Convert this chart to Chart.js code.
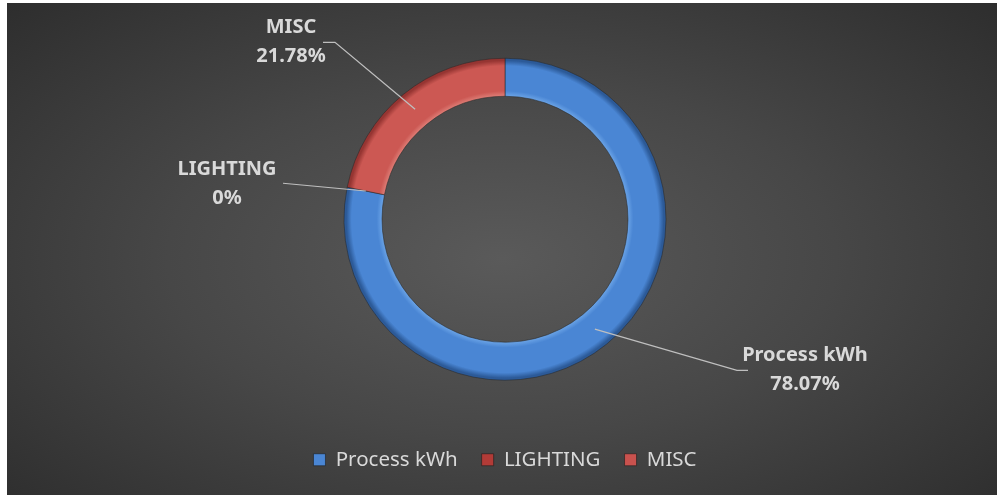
<!DOCTYPE html>
<html>
<head>
<meta charset="utf-8">
<script src="https://cdn.jsdelivr.net/npm/chart.js@4"></script>
<style>
  html, body { margin: 0; padding: 0; background: #ffffff; overflow: hidden; }
  #wrap {
    position: absolute; left: 7px; top: 3px; width: 990px; height: 492px;
    background: radial-gradient(ellipse 75% 80% at 50% 52%, #5a5a5a 0%, #474747 45%, #2a2a2a 100%);
  }
</style>
</head>
<body>
<div id="wrap"><canvas id="energyChart"></canvas></div>
<script>
// Energy split (values shown as percent labels)
const categories = ['Process kWh', 'LIGHTING', 'MISC'];
const shares = [78.07, 0, 21.78];

// colours for each slice: highlight, base, dark edge
const sliceColors = [
  ['#6aa3e6', '#4a86d4', '#2c5a98'],
  ['#d46a64', '#b83c38', '#7f2623'],
  ['#de7e77', '#cc5853', '#963532']
];
const legendColors = ['#4a86d4', '#b23b37', '#c9524e'];

// where the data labels sit, relative to the ring centre
const labelSpots = [
  { tx: 300, ty: 151, ex: 243, ey: 151, knee: -11 },
  { tx: -278, ty: -35, ex: -222, ey: -36, knee: 0 },
  { tx: -214, ty: -177, ex: -182, ey: -177, knee: 12 }
];

const OUTER_R = 161;
const INNER_R = 123;
const FONT = '"Noto Sans", "DejaVu Sans", sans-serif';

function sliceFill(ctx) {
  const chart = ctx.chart;
  const area = chart.chartArea;
  const cols = sliceColors[ctx.dataIndex];
  if (!area) return cols[1];
  const cx = (area.left + area.right) / 2;
  const cy = (area.top + area.bottom) / 2;
  const g = chart.ctx.createRadialGradient(cx, cy, INNER_R, cx, cy, OUTER_R);
  g.addColorStop(0, cols[0]);
  g.addColorStop(0.14, cols[1]);
  g.addColorStop(0.8, cols[1]);
  g.addColorStop(0.94, cols[2]);
  g.addColorStop(1, cols[2]);
  return g;
}

const leaderLabels = {
  id: 'leaderLabels',
  afterDatasetsDraw(chart) {
    const meta = chart.getDatasetMeta(0);
    const c = chart.ctx;
    c.save();
    meta.data.forEach((arc, i) => {
      const p = arc.getProps(['x', 'y', 'startAngle', 'endAngle', 'innerRadius', 'outerRadius'], true);
      const mid = (p.startAngle + p.endAngle) / 2;
      const r = (p.innerRadius + p.outerRadius) / 2;
      const ax = p.x + Math.cos(mid) * r;
      const ay = p.y + Math.sin(mid) * r;
      const s = labelSpots[i];
      const ex = p.x + s.ex, ey = p.y + s.ey;

      c.strokeStyle = '#bfbfbf';
      c.lineWidth = 1.25;
      c.beginPath();
      c.moveTo(ax, ay);
      c.lineTo(ex + s.knee, ey);
      c.lineTo(ex, ey);
      c.stroke();

      c.fillStyle = '#d9d9d9';
      c.font = 'bold 20px ' + FONT;
      c.textAlign = 'center';
      c.textBaseline = 'middle';
      c.fillText(categories[i], p.x + s.tx, p.y + s.ty - 14.5);
      c.fillText(shares[i] + '%', p.x + s.tx, p.y + s.ty + 14.5);
    });
    c.restore();
  }
};

new Chart(document.getElementById('energyChart'), {
  type: 'doughnut',
  data: {
    labels: categories,
    datasets: [{
      data: shares,
      backgroundColor: sliceFill,
      borderColor: 'rgba(40,40,40,0.55)',
      borderWidth: 1,
      radius: OUTER_R,
      cutout: (INNER_R / OUTER_R * 100) + '%'
    }]
  },
  options: {
    responsive: true,
    maintainAspectRatio: false,
    animation: false,
    layout: { padding: { left: 6, right: 0, top: 10, bottom: 15 } },
    plugins: {
      tooltip: { enabled: false },
      legend: {
        position: 'bottom',
        labels: {
          color: '#d9d9d9',
          font: { family: FONT, size: 20.5 },
          boxWidth: 12,
          boxHeight: 12,
          padding: 24,
          generateLabels(chart) {
            const items = Chart.overrides.doughnut.plugins.legend.labels.generateLabels(chart);
            items.forEach((it, i) => {
              it.fillStyle = legendColors[i];
              it.strokeStyle = 'rgba(30,30,30,0.6)';
              it.lineWidth = 1;
            });
            return items;
          }
        }
      }
    }
  },
  plugins: [leaderLabels]
});
</script>
</body>
</html>
